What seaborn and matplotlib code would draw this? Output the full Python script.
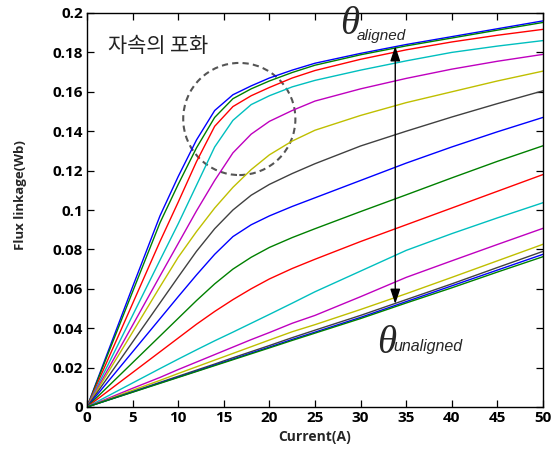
import matplotlib
matplotlib.use("Agg")
import matplotlib.pyplot as plt
from matplotlib.patches import Ellipse
import seaborn as sns
import pandas as pd

# ---------------- data ----------------
current = [0, 5, 8, 10, 12, 14, 16, 18, 20, 22.5, 25, 30, 35, 40, 45, 50]

c01 = [0, 0.061, 0.097, 0.117, 0.1355, 0.1505, 0.1585, 0.163, 0.167, 0.171, 0.1745, 0.1795, 0.184, 0.188, 0.192, 0.196]
c02 = [0, 0.0585, 0.0935, 0.113, 0.1315, 0.147, 0.1565, 0.1615, 0.1655, 0.1698, 0.1735, 0.1788, 0.1833, 0.1873, 0.1913, 0.1952]
c03 = [0, 0.0525, 0.084, 0.104, 0.1245, 0.1425, 0.1525, 0.158, 0.1622, 0.167, 0.1708, 0.1765, 0.1813, 0.1853, 0.1887, 0.1917]
c04 = [0, 0.0465, 0.0745, 0.093, 0.1125, 0.132, 0.1455, 0.1535, 0.158, 0.1625, 0.1658, 0.171, 0.1757, 0.18, 0.1832, 0.186]
c05 = [0, 0.0415, 0.0665, 0.083, 0.0995, 0.115, 0.129, 0.1385, 0.145, 0.1505, 0.1553, 0.1615, 0.1668, 0.1715, 0.1755, 0.179]
c06 = [0, 0.038, 0.061, 0.076, 0.089, 0.101, 0.1115, 0.1205, 0.128, 0.135, 0.1405, 0.148, 0.1545, 0.16, 0.1655, 0.1705]
c07 = [0, 0.033, 0.0528, 0.066, 0.079, 0.0905, 0.1, 0.1075, 0.113, 0.1185, 0.1235, 0.1325, 0.14, 0.1472, 0.154, 0.1605]
c08 = [0, 0.028, 0.0448, 0.056, 0.067, 0.0775, 0.0865, 0.0925, 0.097, 0.1018, 0.1062, 0.115, 0.1238, 0.132, 0.1397, 0.147]
c09 = [0, 0.0225, 0.036, 0.045, 0.054, 0.0625, 0.07, 0.076, 0.081, 0.086, 0.0905, 0.0992, 0.1077, 0.1163, 0.1247, 0.1326]
c10 = [0, 0.0175, 0.028, 0.035, 0.042, 0.0485, 0.0545, 0.06, 0.065, 0.0703, 0.075, 0.084, 0.0925, 0.101, 0.1095, 0.118]
c11 = [0, 0.0122, 0.0195, 0.0243, 0.029, 0.0336, 0.038, 0.0425, 0.047, 0.0527, 0.0585, 0.069, 0.0795, 0.088, 0.096, 0.1037]
c12 = [0, 0.0095, 0.015, 0.019, 0.0228, 0.0266, 0.0304, 0.0342, 0.0378, 0.0425, 0.0465, 0.056, 0.0658, 0.0742, 0.0825, 0.0907]
c13 = [0, 0.0085, 0.0135, 0.017, 0.0204, 0.0238, 0.0272, 0.0306, 0.034, 0.0382, 0.0418, 0.0495, 0.0575, 0.0658, 0.0742, 0.0826]
c14 = [0, 0.0078, 0.0125, 0.0156, 0.0187, 0.0218, 0.025, 0.0281, 0.0312, 0.0352, 0.039, 0.0465, 0.0545, 0.0625, 0.0708, 0.079]
c15 = [0, 0.0076, 0.0122, 0.0152, 0.0182, 0.0213, 0.0243, 0.0274, 0.0304, 0.0343, 0.038, 0.0455, 0.0535, 0.0615, 0.0695, 0.0775]
c16 = [0, 0.0075, 0.012, 0.015, 0.018, 0.021, 0.024, 0.027, 0.03, 0.0338, 0.0375, 0.0449, 0.0528, 0.0605, 0.0685, 0.0763]

curves = [c01, c02, c03, c04, c05, c06, c07, c08, c09, c10, c11, c12, c13, c14, c15, c16]
curve_names = ["c%02d" % (i + 1) for i in range(len(curves))]

matlab_cycle = [(0, 0, 1), (0, 0.5, 0), (1, 0, 0), (0, 0.75, 0.75),
                (0.75, 0, 0.75), (0.75, 0.75, 0), (0.25, 0.25, 0.25)]
colors = [matlab_cycle[i % 7] for i in range(len(curves))]

xticks = [0, 5, 10, 15, 20, 25, 30, 35, 40, 45, 50]
xticklabels = ["0", "5", "10", "15", "20", "25", "30", "35", "40", "45", "50"]
yticks = [0, 0.02, 0.04, 0.06, 0.08, 0.1, 0.12, 0.14, 0.16, 0.18, 0.2]
yticklabels = ["0", "0.02", "0.04", "0.06", "0.08", "0.1", "0.12", "0.14", "0.16", "0.18", "0.2"]

xlabel = "Current(A)"
ylabel = "Flux linkage(Wb)"
saturation_text = "자속의 포화"
arrow_x = 33.8
arrow_top = 0.1832
arrow_bottom = 0.0523

# ---------------- build table ----------------
rows = []
for name, vals in zip(curve_names, curves):
    for x, y in zip(current, vals):
        rows.append({"I": x, "flux": y, "curve": name})
df = pd.DataFrame(rows)

# ---------------- style ----------------
sns.set_style("ticks")
plt.rcParams["font.family"] = ["Open Sans", "Noto Sans CJK KR", "DejaVu Sans"]
plt.rcParams["xtick.direction"] = "in"
plt.rcParams["ytick.direction"] = "in"

fig = plt.figure(figsize=(5.58, 4.55), dpi=100)
ax = fig.add_axes([87 / 558, 1 - 407 / 455, (543 - 87) / 558, (407 - 13) / 455])

sns.lineplot(data=df, x="I", y="flux", hue="curve", hue_order=curve_names,
             palette=colors, legend=False, ax=ax, linewidth=1.0, sort=False)

ax.set_xlim(0, 50)
ax.set_ylim(0, 0.2)
ax.set_xticks(xticks)
ax.set_xticklabels(xticklabels, fontsize=11, fontweight="bold")
ax.set_yticks(yticks)
ax.set_yticklabels(yticklabels, fontsize=11, fontweight="bold")
ax.tick_params(direction="in", length=5, width=0.9, top=True, right=True,
               colors="black", pad=3)
for sp in ax.spines.values():
    sp.set_visible(True)
    sp.set_color("black")
    sp.set_linewidth(1.0)

ax.set_xlabel(xlabel, fontsize=10, fontweight="bold")
ax.set_ylabel(ylabel, fontsize=9.5, fontweight="bold")
ax.xaxis.set_label_coords(0.5, -0.076)
ax.xaxis.label.set_va("center")
ax.yaxis.set_label_coords(-0.145, 0.538)
ax.yaxis.label.set_va("center")

# saturation annotation
ax.text(2.3, 0.1835, saturation_text, fontsize=15, family=["Noto Sans CJK KR"],
        ha="left", va="center", color="#222222")
ell = Ellipse((16.7, 0.1462), width=12.3, height=0.0569, fill=False,
              edgecolor="#555555", linewidth=1.5, linestyle=(0, (3, 2)))
ax.add_patch(ell)

# double arrow
ax.annotate("", xy=(arrow_x, arrow_bottom), xytext=(arrow_x, arrow_top),
            arrowprops=dict(arrowstyle="<|-|>,head_length=0.9,head_width=0.3",
                            color="black", lw=1.0, shrinkA=0, shrinkB=0))

# theta labels
ax.text(27.7, 0.1895, "θ", fontsize=28, family=["Liberation Serif"], style="italic",
        ha="left", va="baseline", clip_on=False)
ax.text(29.6, 0.1863, "aligned", fontsize=11, family=["Liberation Sans"], style="italic",
        ha="left", va="baseline", clip_on=False)
ax.text(31.8, 0.0274, "θ", fontsize=28, family=["Liberation Serif"], style="italic",
        ha="left", va="baseline")
ax.text(33.55, 0.0285, "unaligned", fontsize=11.5, family=["Liberation Sans"], style="italic",
        ha="left", va="baseline")

fig.savefig("out.png", dpi=100)
